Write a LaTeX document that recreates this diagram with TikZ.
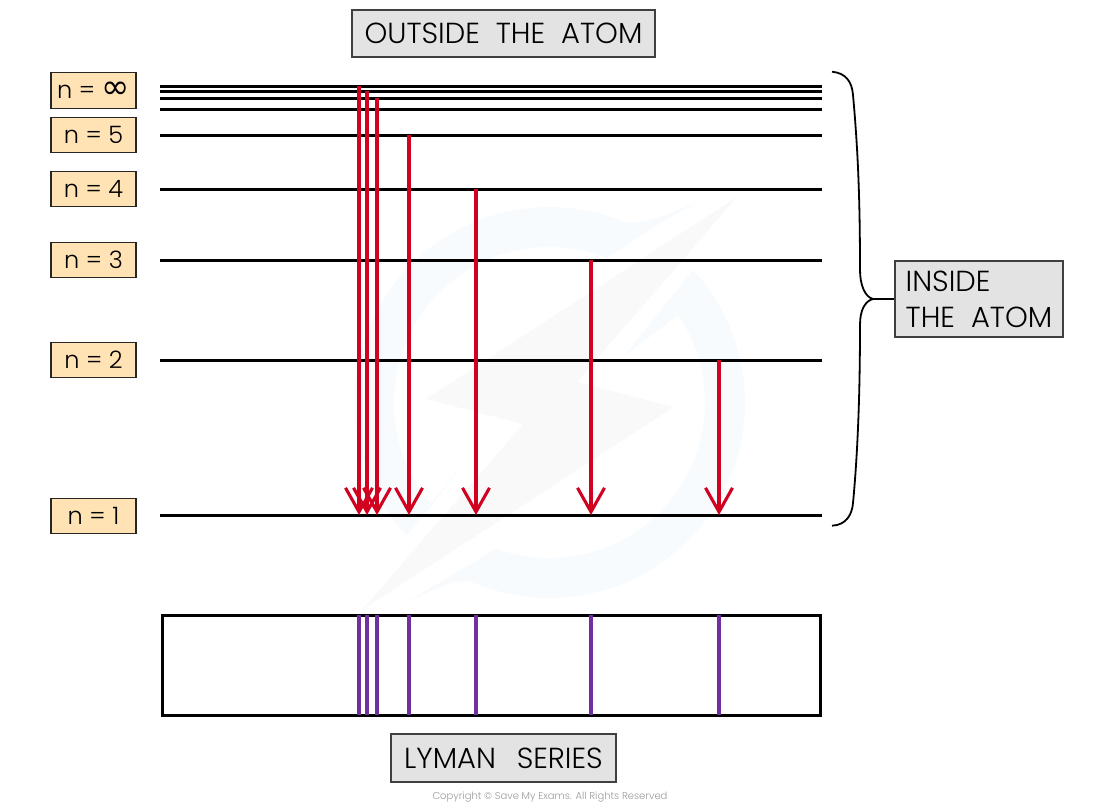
\documentclass[tikz,border=0pt]{standalone}
\usepackage{xcolor}
\usepackage{fontspec}
\setmainfont{Poppins}[UprightFont=* Light]
\newfontfamily\symfont{DejaVu Sans}
\usetikzlibrary{arrows.meta, positioning}
\definecolor{levelOrange}{HTML}{FFE3B5}
\definecolor{titleGrey}{HTML}{E3E3E3}
\definecolor{lineRed}{HTML}{D0021F}
\definecolor{linePurple}{HTML}{7030A0}
\definecolor{ringBlue}{HTML}{F7FBFE}
\definecolor{boltGrey}{HTML}{F9F9F9}

\begin{document}
\begin{tikzpicture}[
  x=1pt, y=-1pt,
  level/.style={rectangle, draw=black!85, line width=1.2pt, fill=levelOrange, minimum width=85pt, minimum height=35.5pt, inner sep=0pt, align=center, font=\fontsize{24}{28}\selectfont},
  title/.style={rectangle, draw=black!75, line width=1.2pt, fill=titleGrey, inner sep=0pt, align=left, font=\fontsize{29}{36}\selectfont},
  energy/.style={line width=3pt, color=black},
  arrow/.style={-{Straight Barb[length=24pt, width=27pt, line width=3.1pt]}, line width=3.1pt, color=lineRed},
  emission/.style={line width=3.1pt, color=linePurple},
]
\useasboundingbox (0,0) rectangle (1100,807);

% watermark
\fill[ringBlue, even odd rule] (549.5,402.5) circle (195.5) (549.5,402.5) circle (155.5);
\fill[white] (607,258) -- (623,222) -- (680,195) -- (730,240) -- (693,270) -- (678,315) -- cycle;
\fill[white] (497,548) -- (470,581) -- (430,605) -- (375,560) -- (407,535) -- (432,505) -- cycle;
\fill[ringBlue] (623,222) .. controls (650,225) and (670,212) .. (697,203) .. controls (665,218) and (635,240) .. (607,258) -- cycle;
\fill[ringBlue] (693,270) -- (623,357) -- (678,315) -- cycle;
\fill[ringBlue] (470,581) .. controls (450,580) and (430,592) .. (407,602) .. controls (435,585) and (465,568) .. (497,548) -- cycle;
\fill[ringBlue] (407,535) -- (473,450) -- (432,505) -- cycle;
\fill[boltGrey] (737,197) -- (426,399) -- (523,424) -- (362,610) -- (674,407) -- (577,382) -- cycle;

% level labels
\node[level] (n8) at (93.5,90.5) {n = {\symfont\fontsize{34}{28}\selectfont ∞}};
\node[level] (n5) at (93.5,135) {n = 5};
\node[level] (n4) at (93.5,189) {n = 4};
\node[level] (n3) at (93.5,260) {n = 3};
\node[level] (n2) at (93.5,360) {n = 2};
\node[level] (n1) at (93.5,516) {n = 1};

% energy levels
\foreach \name/\ypos in {a/86, b/91, c/98, d/109, e/135, f/189, g/260, h/360, i/515} {
  \coordinate (\name L) at (160,\ypos);
  \coordinate (\name R) at (822,\ypos);
  \draw[energy] (\name L) -- (\name R);
}

% spectrum
\node[rectangle, draw=black, line width=3pt, minimum width=658pt, minimum height=100pt, inner sep=0pt] (spectrum) at (491.5,665) {};

% transitions
\foreach \xpos/\name in {359/a, 367/b, 377/c, 409/e, 476/f, 591/g, 719/h} {
  \coordinate (top\name) at (\xpos,615);
  \coordinate (end\name) at (\xpos,515);
  \coordinate (low\name) at (\xpos,715);
  \draw[arrow] (top\name |- \name L) -- (end\name);
  \draw[emission] (top\name) -- (low\name);
}

% titles
\node[title, minimum width=303pt, minimum height=47pt, align=center] (outside) at (503.5,33.5) {OUTSIDE\; THE\; ATOM};
\node[title, minimum width=225pt, minimum height=48pt, align=center] (lyman) at (503.5,758) {LYMAN\;\, SERIES};
\node[title, minimum width=168pt, minimum height=76pt, inner xsep=10pt] (inside) at (979,299) {INSIDE\\THE\; ATOM};

% brace
\coordinate (tip) at (873,299);
\draw[line width=1.8pt] (832,71.7) .. controls (846,73) and (852,82) .. (853,95) .. controls (858,150) and (860,200) .. (860,270) .. controls (860,285) and (865,297) .. (tip);
\draw[line width=1.8pt] (832,525.7) .. controls (846,525) and (852,515) .. (853,503) .. controls (858,450) and (860,390) .. (860,325) .. controls (860,310) and (865,301) .. (tip);
\draw[line width=1.8pt] (tip) -- (inside.west);

\node[font=\fontsize{10}{12}\selectfont, color=black!40, inner sep=0pt] (copyright) at (550,797) {Copyright © Save My Exams. All Rights Reserved};

\end{tikzpicture}
\end{document}
